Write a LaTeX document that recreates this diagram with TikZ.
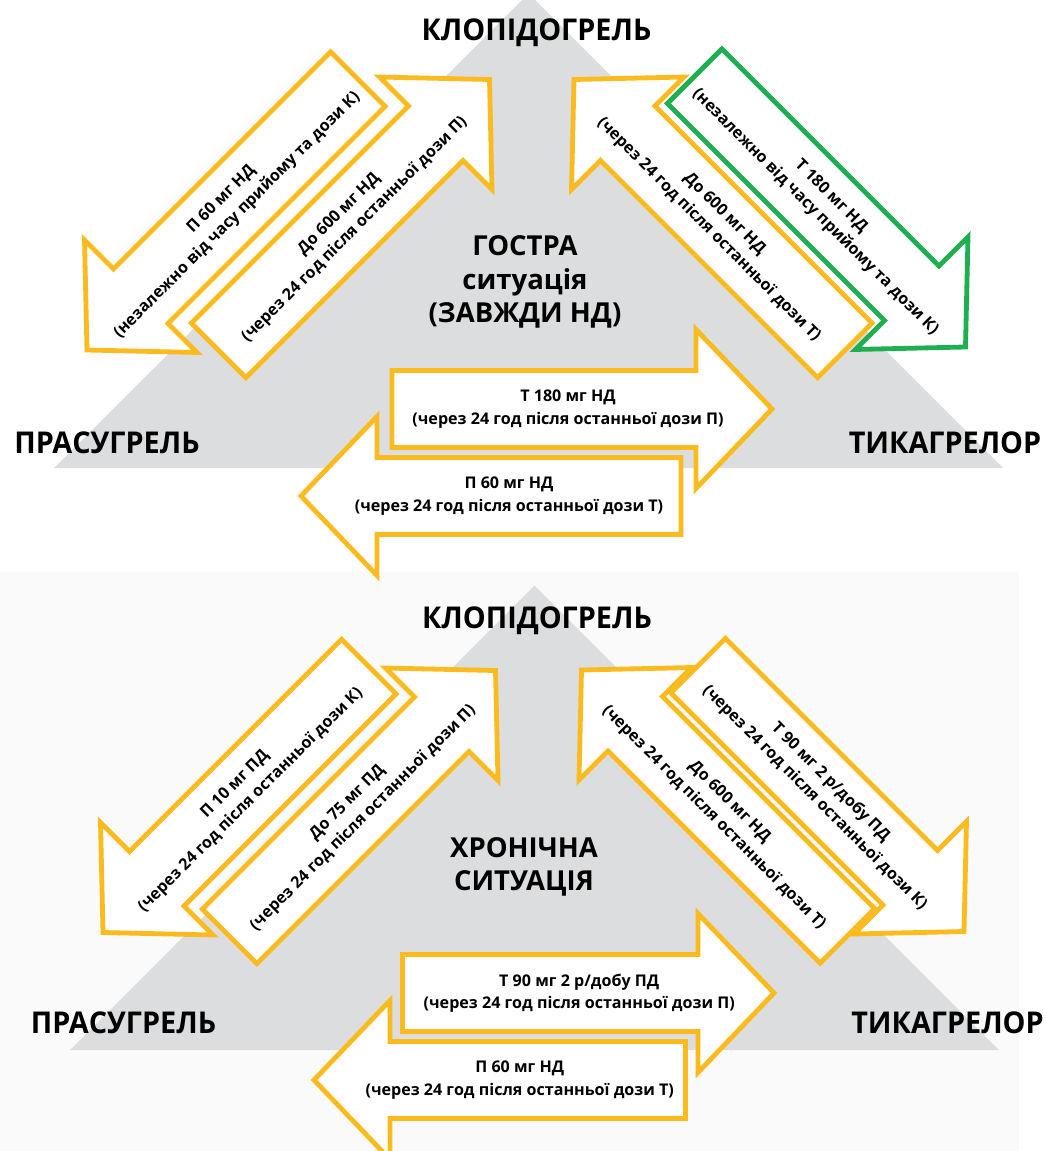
\documentclass[tikz,border=0pt]{standalone}
\usepackage{fontspec}
\setmainfont{Open Sans}
\newfontfamily\titlefont{Open Sans}[FakeStretch=0.96]
\definecolor{ayellow}{HTML}{FBBA1E}
\definecolor{agreen}{HTML}{1DAF50}
\definecolor{tgrey}{HTML}{DCDDDE}
\definecolor{panelbg}{HTML}{FAFAFA}
\tikzset{
  arrowbox/.style={line width=4.8pt, fill=white, line join=miter, miter limit=10},
  yel/.style={draw=ayellow},
  grn/.style={draw=agreen},
  arrowtext/.style={font=\bfseries\fontsize{16.1}{22.2}\selectfont, align=center, inner sep=0pt, text=black},
  drug/.style={font=\titlefont\bfseries\fontsize{30}{36}\selectfont, inner sep=0pt, anchor=base},
  situation/.style={font=\bfseries\fontsize{27.5}{33.5}\selectfont, align=center, inner sep=0pt},
}
\newcommand{\arrsw}{38.5}
\newcommand{\arrhw}{79.5}
\newcommand{\arrhl}{76}
% #1 name, #2 tip, #3 direction, #4 length, #5 text angle, #6 colour style, #7 text, #8 text shift to tail
\newcommand{\bigarrow}[8]{%
  \begin{scope}[shift={#2}, rotate=#3]
    \draw[arrowbox,#6] (-#4,-\arrsw) -- (-\arrhl,-\arrsw) -- (-\arrhl,-\arrhw) -- (0,0)
      -- (-\arrhl,\arrhw) -- (-\arrhl,\arrsw) -- (-#4,\arrsw) -- cycle;
    \node[arrowtext, rotate=#5] (#1) at ({-#4/2-#8},0) {#7};
  \end{scope}}
\begin{document}
\begin{tikzpicture}[x=1pt,y=-1pt]
\useasboundingbox (0,0) rectangle (1046,1151);
\fill[white] (0,0) rectangle (1046,1151);
% top panel
\fill[tgrey] (528.5,-6.5) -- (1003,468) -- (54,468) -- cycle;
% bottom panel
\fill[panelbg] (0,572) rectangle (1019,1151);
\fill[tgrey] (534.5,585.5) -- (999,1050) -- (70,1050) -- cycle;

% ---- acute ----
\bigarrow{a1}{(87,350)}{225}{383}{45}{yel}{П 60 мг НД\\(незалежно від часу прийому та дози К)}{10}
\bigarrow{a2}{(489.5,79.5)}{45}{383}{45}{yel}{До 600 мг НД\\(через 24 год після останньої дози П)}{10}
\bigarrow{a3}{(574,79.5)}{135}{383}{-45}{yel}{До 600 мг НД\\(через 24 год після останньої дози Т)}{10}
\bigarrow{a4}{(965.5,347)}{-45}{383}{-45}{grn}{Т 180 мг НД\\(незалежно від часу прийому та дози К)}{10}
\bigarrow{a5}{(772,409)}{0}{380}{0}{yel}{Т 180 мг НД\\(через 24 год після останньої дози П)}{14}
\bigarrow{a6}{(301,496)}{180}{380}{0}{yel}{П 60 мг НД\\(через 24 год після останньої дози Т)}{18}

\node[drug] (klo1) at (536.5,40) {КЛОПІДОГРЕЛЬ};
\node[drug] (pra1) at (107,453) {ПРАСУГРЕЛЬ};
\node[drug] (tik1) at (945,453) {ТИКАГРЕЛОР};
\node[situation] (acute) at (525,282) {ГОСТРА\\ситуація\\(ЗАВЖДИ НД)};

% ---- chronic ----
\bigarrow{b1}{(103,932.5)}{225}{376}{45}{yel}{П 10 мг ПД\\(через 24 год після останньої дози К)}{10}
\bigarrow{b2}{(495.5,670.5)}{45}{376}{45}{yel}{До 75 мг ПД\\(через 24 год після останньої дози П)}{10}
\bigarrow{b3}{(581.5,670)}{135}{376}{-45}{yel}{До 600 мг НД\\(через 24 год після останньої дози Т)}{10}
\bigarrow{b4}{(964,931.5)}{-45}{376}{-45}{yel}{Т 90 мг 2 р/добу ПД\\(через 24 год після останньої дози К)}{12}
\bigarrow{b5}{(774,993)}{0}{371.5}{0}{yel}{Т 90 мг 2 р/добу ПД\\(через 24 год після останньої дози П)}{9}
\bigarrow{b6}{(314,1080)}{180}{371.5}{0}{yel}{П 60 мг НД\\(через 24 год після останньої дози Т)}{20}

\node[drug] (klo2) at (537,628) {КЛОПІДОГРЕЛЬ};
\node[drug] (pra2) at (123.5,1033) {ПРАСУГРЕЛЬ};
\node[drug] (tik2) at (947.5,1033) {ТИКАГРЕЛОР};
\node[situation] (chronic) at (524,867) {ХРОНІЧНА\\СИТУАЦІЯ};
\end{tikzpicture}
\end{document}
